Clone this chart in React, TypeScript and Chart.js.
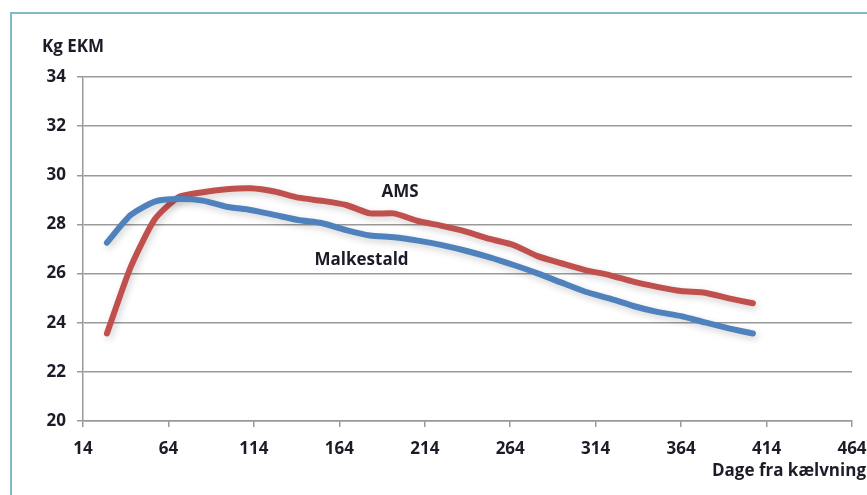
import React, { useEffect, useRef } from "react";
import { Chart, registerables } from "chart.js";

Chart.register(...registerables);

// Days from calving (sample points)
const days = [28, 42, 56, 70, 84, 98, 112, 126, 140, 154, 168, 182, 196, 210, 224, 238, 252, 266, 280, 294, 308, 322, 336, 350, 364, 378, 392, 406];
// Kg EKM, AMS
const ams = [23.56, 26.28, 28.21, 29.11, 29.31, 29.43, 29.47, 29.34, 29.09, 28.96, 28.79, 28.45, 28.45, 28.14, 27.94, 27.71, 27.41, 27.16, 26.71, 26.42, 26.14, 25.94, 25.67, 25.46, 25.29, 25.22, 24.99, 24.79];
// Kg EKM, Malkestald
const malkestald = [27.26, 28.39, 28.93, 29.03, 28.97, 28.72, 28.59, 28.39, 28.18, 28.05, 27.77, 27.55, 27.48, 27.34, 27.16, 26.93, 26.66, 26.35, 26.01, 25.63, 25.26, 24.99, 24.68, 24.44, 24.27, 24.01, 23.77, 23.56];

const xTicks = [14, 64, 114, 164, 214, 264, 314, 364, 414, 464];
const yTicks = [20, 22, 24, 26, 28, 30, 32, 34];

const seriesNames = ["AMS", "Malkestald"];
const labelDays = [199.5, 177];
const labelValues = [29.32, 26.55];

const yTitle = "Kg EKM";
const xTitle = "Dage fra kælvning";

const FONT = "'Open Sans', 'Noto Sans', sans-serif";
const TEXT = "#1c1c28";

export default function App() {
  const ref = useRef<HTMLCanvasElement | null>(null);

  useEffect(() => {
    if (!ref.current) return;

    const extras = {
      id: "extras",
      beforeDatasetsDraw(chart: any) {
        const ctx = chart.ctx;
        ctx.save();
        ctx.shadowColor = "rgba(0,0,0,0.18)";
        ctx.shadowBlur = 7;
        ctx.shadowOffsetX = 2;
        ctx.shadowOffsetY = 3;
      },
      afterDatasetsDraw(chart: any) {
        const ctx = chart.ctx;
        ctx.restore();
        const { x, y } = chart.scales;
        const area = chart.chartArea;
        ctx.save();
        ctx.fillStyle = TEXT;
        ctx.textBaseline = "middle";
        ctx.font = `bold 17px ${FONT}`;
        ctx.textAlign = "center";
        seriesNames.forEach((n, i) => {
          ctx.fillText(n, x.getPixelForValue(labelDays[i]), y.getPixelForValue(labelValues[i]));
        });
        ctx.textAlign = "left";
        ctx.fillText(yTitle, area.left - 41, area.top - 30);
        ctx.textAlign = "right";
        ctx.fillText(xTitle, area.right + 14, area.bottom + 50);
        ctx.restore();
      },
    };

    const chart = new Chart(ref.current, {
      type: "line",
      data: {
        datasets: [
          {
            label: seriesNames[1],
            data: days.map((d, i) => ({ x: d, y: malkestald[i] })),
            borderColor: "#4f81bd",
            borderWidth: 6,
            pointRadius: 0,
            tension: 0.2,
            borderCapStyle: "round",
            borderJoinStyle: "round",
          },
          {
            label: seriesNames[0],
            data: days.map((d, i) => ({ x: d, y: ams[i] })),
            borderColor: "#c0504d",
            borderWidth: 6,
            pointRadius: 0,
            tension: 0.2,
            borderCapStyle: "round",
            borderJoinStyle: "round",
          },
        ],
      },
      options: {
        animation: false,
        responsive: false,
        layout: { padding: { top: 77, right: 15, left: 0, bottom: 0 } },
        plugins: { legend: { display: false }, tooltip: { enabled: false } },
        scales: {
          x: {
            type: "linear",
            min: 14,
            max: 464,
            afterBuildTicks: (s: any) => {
              s.ticks = xTicks.map((v) => ({ value: v }));
            },
            afterFit: (s: any) => {
              s.height = 74;
              s.paddingLeft = 0;
              s.paddingRight = 0;
            },
            grid: { drawOnChartArea: false, drawTicks: true, tickLength: 6, color: "#999", lineWidth: 1.5 },
            border: { display: true, color: "#999", width: 1.5 },
            ticks: {
              autoSkip: false,
              maxRotation: 0,
              padding: 12,
              color: TEXT,
              font: { family: FONT, size: 17, weight: "bold" },
            },
          },
          y: {
            min: 20,
            max: 34,
            afterBuildTicks: (s: any) => {
              s.ticks = yTicks.map((v) => ({ value: v }));
            },
            afterFit: (s: any) => {
              s.width = 83;
              s.paddingTop = 0;
              s.paddingBottom = 0;
            },
            grid: { drawOnChartArea: true, drawTicks: true, tickLength: 6, color: "#9a9a9a", lineWidth: 1.5 },
            border: { display: true, color: "#999", width: 1.5 },
            ticks: {
              padding: 11,
              color: TEXT,
              font: { family: FONT, size: 17, weight: "bold" },
            },
          },
        },
      },
      plugins: [extras],
    });

    return () => chart.destroy();
  }, []);

  return (
    <div style={{ position: "absolute", left: 0, top: 0, width: 867, height: 495, overflow: "hidden", background: "#fff" }}>
      <div
        style={{
          position: "absolute",
          left: 10,
          top: 12,
          width: 900,
          height: 520,
          border: "2px solid #82b9ca",
          boxSizing: "border-box",
        }}
      />
      <canvas ref={ref} width={867} height={495} style={{ position: "absolute", left: 0, top: 0, width: 867, height: 495 }} />
    </div>
  );
}
